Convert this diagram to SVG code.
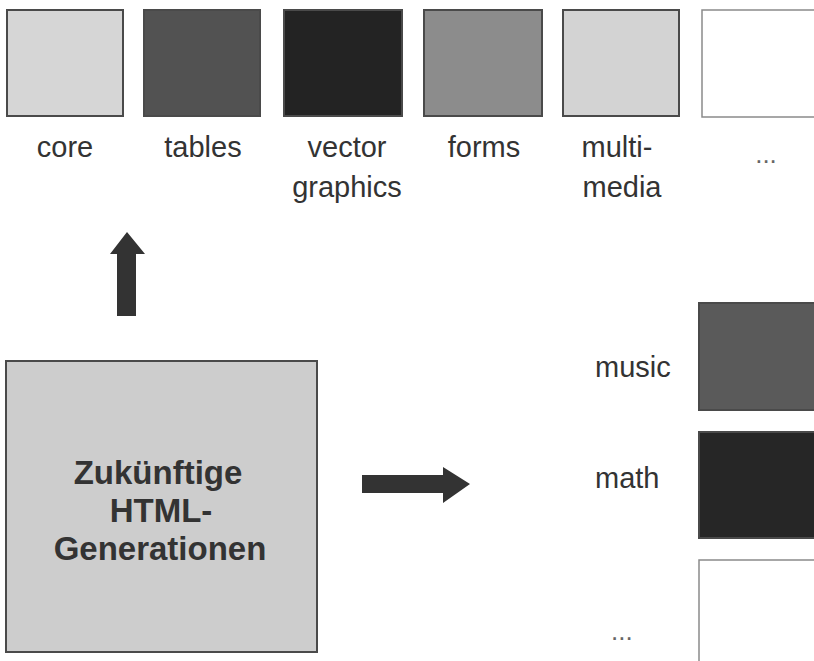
<svg xmlns="http://www.w3.org/2000/svg" width="814" height="661" viewBox="0 0 814 661">
  <style>
    .lbl { font-family: "Liberation Sans", Arial, sans-serif; font-size: 29px; fill: #333; }
    .dots { font-family: "Liberation Sans", Arial, sans-serif; font-size: 26px; fill: #666; }
    .big { font-family: "Liberation Sans", Arial, sans-serif; font-size: 33px; font-weight: bold; fill: #333; text-anchor: middle; }
    .mid { text-anchor: middle; }
    .box { stroke: #4a4a4a; stroke-width: 2; }
    .open { fill: #fff; stroke: #8a8a8a; stroke-width: 1.5; }
    .arrow { fill: #333; }
  </style>
  <rect width="814" height="661" fill="#fff"/>

  <!-- module row -->
  <g id="core">
    <rect class="box" x="7" y="10" width="116" height="106" fill="#d6d6d6"/>
    <text class="lbl mid" x="65" y="157">core</text>
  </g>
  <g id="tables">
    <rect class="box" x="144" y="10" width="116" height="106" fill="#525252"/>
    <text class="lbl mid" x="203" y="157">tables</text>
  </g>
  <g id="vector-graphics">
    <rect class="box" x="284" y="10" width="118" height="106" fill="#232323"/>
    <text class="lbl mid" x="347" y="157">vector</text>
    <text class="lbl mid" x="347" y="197">graphics</text>
  </g>
  <g id="forms">
    <rect class="box" x="424" y="10" width="118" height="106" fill="#8c8c8c"/>
    <text class="lbl mid" x="484" y="157">forms</text>
  </g>
  <g id="multimedia">
    <rect class="box" x="563" y="10" width="116" height="106" fill="#d3d3d3"/>
    <text class="lbl mid" x="617" y="157">multi-</text>
    <text class="lbl mid" x="622" y="197">media</text>
  </g>
  <g id="more-top">
    <rect class="open" x="702" y="10" width="118" height="107"/>
    <text class="dots mid" x="766" y="163">...</text>
  </g>

  <!-- central box -->
  <g id="future-html">
    <rect class="box" x="6" y="361" width="311" height="291" fill="#cdcdcd"/>
    <text class="big" x="158" y="484">Zukünftige</text>
    <text class="big" x="161" y="522">HTML-</text>
    <text class="big" x="160" y="560">Generationen</text>
  </g>

  <!-- side modules -->
  <g id="music">
    <text class="lbl" x="595" y="377">music</text>
    <rect class="box" x="699" y="303" width="125" height="107" fill="#5a5a5a"/>
  </g>
  <g id="math">
    <text class="lbl" x="595" y="488">math</text>
    <rect class="box" x="699" y="432" width="125" height="106" fill="#262626"/>
  </g>
  <g id="more-side">
    <text class="dots" x="611" y="640">...</text>
    <rect class="open" x="699" y="560" width="125" height="120"/>
  </g>

  <!-- connectors -->
  <g id="connectors">
    <polygon class="arrow" points="127,232 145,254 136,254 136,316 117,316 117,254 110,254"/>
    <polygon class="arrow" points="362,475 443,475 443,467 470,484 443,503 443,493 362,493"/>
  </g>
</svg>
